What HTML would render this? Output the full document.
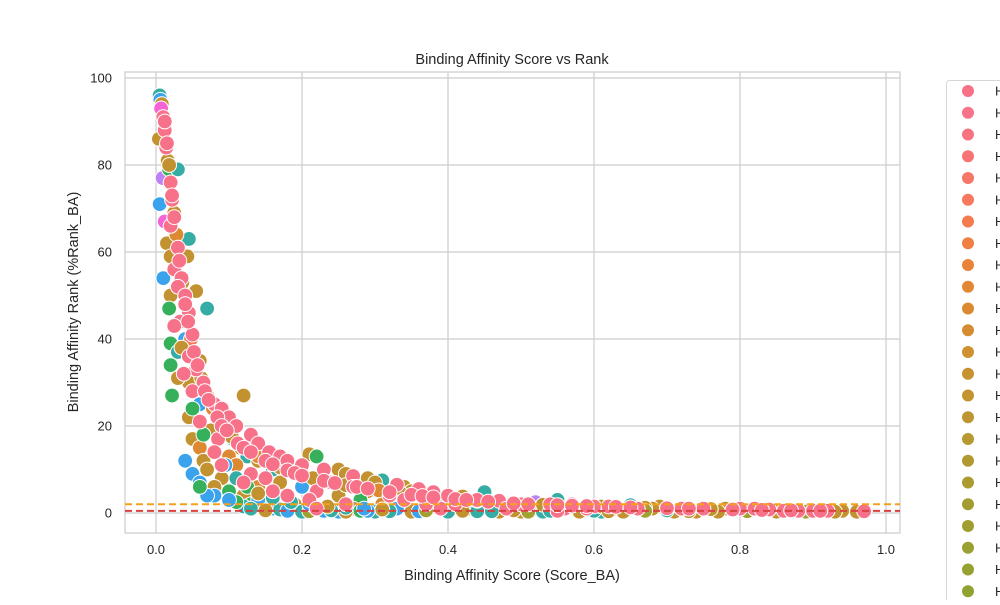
<!DOCTYPE html>
<html><head><meta charset="utf-8"><style>
body{margin:0;background:#fff;}
svg text{font-family:"Liberation Sans","DejaVu Sans",sans-serif;fill:#262626;}
</style></head><body>
<svg id="chart" width="1000" height="600" viewBox="0 0 1000 600" xmlns="http://www.w3.org/2000/svg">
<rect x="125" y="72" width="775" height="461" fill="#fff" stroke="#cccccc" stroke-width="1.2"/>
<g id="grid"></g>
<g id="points"></g>
<g id="lines"></g>
<g id="ticks"></g>
<text x="512" y="64" text-anchor="middle" font-size="14.5">Binding Affinity Score vs Rank</text>
<text x="512" y="580" text-anchor="middle" font-size="14.5">Binding Affinity Score (Score_BA)</text>
<text transform="translate(78,302) rotate(-90)" text-anchor="middle" font-size="14.5">Binding Affinity Rank (%Rank_BA)</text>
<rect x="946.5" y="80.5" width="70" height="540" rx="3" fill="#fff" stroke="#d6d6d6"/>
<g id="legend"></g>
</svg>
<script>
const xTicks=[0.0,0.2,0.4,0.6,0.8,1.0];
const yTicks=[0,20,40,60,80,100];
const palette=["#f77189","#f7754f","#dc8932","#c39230","#a1a032","#36b05a","#36ada4","#3ba3ec","#bb83f4","#f564d4"];
const legendColors=["#f77189","#f7738a","#f7737f","#f77474","#f7766a","#f7785e","#f47c4f","#ef7f42","#e9833a","#e28734","#dc8a32","#d68d31","#cf9031","#c99231","#c39431","#bd9631","#b79831","#b19931","#ab9b31","#a59c31","#a09e31","#9aa031","#95a131","#8fa331"];
const scores=[0.005,0.006,0.008,0.007,0.01,0.012,0.004,0.014,0.016,0.009,0.018,0.03,0.02,0.022,0.005,0.025,0.012,0.02,0.028,0.045,0.015,0.03,0.02,0.043,0.01,0.025,0.035,0.03,0.055,0.02,0.04,0.07,0.018,0.045,0.033,0.025,0.05,0.04,0.02,0.03,0.045,0.06,0.02,0.055,0.038,0.065,0.045,0.03,0.022,0.05,0.07,0.12,0.06,0.08,0.09,0.045,0.1,0.06,0.11,0.075,0.095,0.13,0.05,0.085,0.105,0.14,0.06,0.115,0.155,0.08,0.1,0.125,0.17,0.065,0.04,0.18,0.14,0.09,0.2,0.11,0.21,0.22,0.16,0.07,0.23,0.25,0.05,0.13,0.19,0.26,0.27,0.09,0.15,0.21,0.29,0.31,0.06,0.12,0.17,0.24,0.3,0.33,0.08,0.14,0.2,0.27,0.34,0.36,0.1,0.16,0.22,0.29,0.35,0.38,0.45,0.12,0.18,0.25,0.32,0.4,0.42,0.08,0.15,0.21,0.28,0.34,0.38,0.44,0.47,0.55,0.52,0.13,0.19,0.26,0.31,0.37,0.41,0.46,0.5,0.54,0.57,0.6,0.62,0.65,0.69,0.16,0.22,0.27,0.33,0.39,0.43,0.48,0.52,0.56,0.59,0.63,0.66,0.68,0.72,0.75,0.78,0.8,0.82,0.84,0.86,0.88,0.9,0.92,0.94,0.97,0.2,0.25,0.3,0.35,0.4,0.47,0.5,0.53,0.58,0.61,0.64,0.71,0.74,0.77,0.12,0.14,0.11,0.1,0.07,0.06,0.17,0.23,0.28,0.36,0.44,0.55,0.6,
0.012,0.015,0.018,0.022,0.025,0.028,0.032,0.036,0.04,0.044,0.048,0.052,0.057,0.062,0.067,0.072,0.078,0.084,0.09,0.097,0.104,0.112,0.12,0.13,0.14,0.15,0.16,0.17,0.18,0.19,0.2,0.215,0.23,0.245,0.26,0.275,0.29,0.305,0.32,0.335,0.35,0.365,0.38,0.395,0.41,0.425,0.44,0.455,0.47,0.49,0.51,0.53,0.55,0.57,0.59,0.61,0.63,0.65,0.67,0.7,0.73,0.76,0.79,0.83,0.87,0.91,
0.13,0.15,0.18,0.21,0.24,0.26,0.29,0.32,0.37,0.42,0.46,0.49,0.51,0.54,0.62,0.67,0.7,0.73,0.81,0.85,0.89,0.93,0.96,0.035,0.05,0.065,0.08,0.095,0.11,0.125,0.14,0.16,0.185,0.21,0.235,0.26,0.285,0.31,0.34];
const ranks=[96,95,94,93,91,88,86,84,81,77,79,79,76,72,71,69,67,66,64,63,62,61,59,59,54,56,54,52,51,50,50,47,47,46,44,43,41,40,39,37,36,35,34,33,32,30,30,31,27,28,27,27,25,25,24,22,22,21,20,19,19,18,17,17,17,16,15,15,14,14,13,13,13,12,12,12,12,11,11,11,13.5,13,10,10,10,10,9,9,9,9,8.5,8,8,8,8,7.5,7,7,7,7,7,6.5,6,6,6,6,6,5.5,5,5,5,5,5,4.8,4.8,4,4,4,4,4,3.8,4,3,3,3,3,3,3,2.8,3,2.5,2,2,2,2,2,2,2,2,2,2,1.5,1.5,1.8,1.5,1,1,1,1,1,1,1,1,1,1,1,1,1,1,1,1,1,1,0.8,0.5,0.5,0.5,0.5,0.5,0.4,0.3,0.3,0.3,0.3,0.3,0.3,0.3,0.3,0.3,0.3,0.3,0.3,0.3,0.3,1.5,3,2.5,3,4,6,0.8,0.5,0.5,0.4,0.4,0.5,0.5,
90,85,80,73,68,64,58,53,48,44,40,37,34,31,28,26,24,22,20,19,17.5,16,15,14,13,12,11.2,10.5,9.8,9.2,8.6,8,7.4,6.9,6.4,6,5.6,5.2,4.8,4.5,4.2,3.9,3.6,3.4,3.2,3,2.8,2.6,2.4,2.2,2,1.9,1.8,1.7,1.6,1.5,1.4,1.3,1.2,1.1,1,0.9,0.8,0.7,0.6,0.5,
1,0.6,0.5,0.4,0.6,0.3,0.5,0.4,0.6,0.5,0.4,0.6,0.3,0.5,0.4,0.5,0.6,0.4,0.4,0.3,0.3,0.3,0.3,38,24,18,14,11,8,6,4.5,3.5,2.5,2,1.5,1.2,1,0.8];
const groups=[6,7,3,9,0,0,3,0,3,8,5,6,0,0,7,3,9,0,2,6,3,0,3,3,7,0,0,0,3,3,0,6,5,0,0,0,0,7,5,6,0,3,5,0,0,0,3,3,5,0,2,3,7,0,0,3,0,0,0,3,6,0,3,0,6,0,2,3,0,0,2,6,0,3,7,0,3,0,0,2,3,5,6,3,0,3,7,0,0,3,0,3,0,2,3,6,7,0,3,0,3,0,3,2,7,0,3,0,5,0,0,2,3,0,6,3,0,3,0,0,3,7,6,0,5,0,3,0,0,6,8,5,3,0,2,0,0,3,0,0,0,0,0,6,3,7,0,3,7,0,3,0,3,0,0,3,0,3,0,0,3,0,0,0,0,0,0,0,3,0,6,7,6,3,6,3,3,6,3,6,3,3,3,3,6,7,5,7,7,5,6,7,5,7,6,0,6,
0,0,3,0,0,2,0,3,0,0,1,0,0,3,0,0,2,0,0,0,3,0,0,0,2,0,0,3,0,0,0,3,0,0,3,0,0,2,0,3,0,0,0,3,0,0,2,0,3,0,0,3,0,0,0,3,0,0,3,0,0,3,0,0,0,0,
6,3,7,4,6,3,7,6,4,3,6,3,4,6,3,4,6,3,4,3,4,3,3,3,5,5,6,7,6,5,3,6,6,7,3,6,7,3];
const refLines=[2,0.5];
const refColors=["#f5a01a","#d94141"];
const NS="http://www.w3.org/2000/svg";
const X0=125,X1=900,Y0=72,Y1=533;
function xs(v){return 156+v*730;}
function ys(v){return 513-v*4.35;}
function mk(t,a,p){const e=document.createElementNS(NS,t);for(const k in a)e.setAttribute(k,a[k]);p.appendChild(e);return e;}
const grid=document.getElementById('grid'),ticks=document.getElementById('ticks');
xTicks.forEach(t=>{
  const l=mk('line',{x1:xs(t),x2:xs(t),y1:Y0,y2:Y1,stroke:'#cccccc','stroke-width':1.2},grid);
  
  
  const tx=mk('text',{x:xs(t),y:554,'text-anchor':'middle','font-size':13},ticks);
  tx.textContent=t.toFixed(1);
  
  
});
yTicks.forEach(t=>{
  const l=mk('line',{x1:X0,x2:X1,y1:ys(t),y2:ys(t),stroke:'#cccccc','stroke-width':1.2},grid);
  
  
  const tx=mk('text',{x:112,y:ys(t)+4.5,'text-anchor':'end','font-size':13},ticks);
  tx.textContent=String(t);
  
  
});
const pts=document.getElementById('points');
const n=Math.min(scores.length,ranks.length);
const order=[];
for(let i=0;i<n;i++)order.push(i);
function grp(i){return groups[i]===undefined?3:groups[i];}
order.sort((a,b)=>(grp(b)===0?0:1)-(grp(a)===0?0:1));
order.forEach(i=>{
  const c=mk('circle',{cx:xs(scores[i]),cy:ys(ranks[i]),r:7.4,fill:palette[grp(i)],stroke:'#fff','stroke-width':1},pts);
  
  
});
const lines=document.getElementById('lines');
refLines.forEach((v,i)=>{
  const l=mk('line',{x1:X0,x2:X1,y1:ys(v),y2:ys(v),stroke:refColors[i],'stroke-width':2,'stroke-dasharray':'7,4'},lines);
  
  
});
const leg=document.getElementById('legend');
legendColors.forEach((c,i)=>{
  const y=91+i*21.75;
  const m=mk('circle',{cx:968,cy:y,r:6,fill:c},leg);
  
  
  const t=mk('text',{x:995,y:y+4.5,'font-size':13},leg);
  t.textContent='HLA';
  
  
});
</script>
</body></html>
